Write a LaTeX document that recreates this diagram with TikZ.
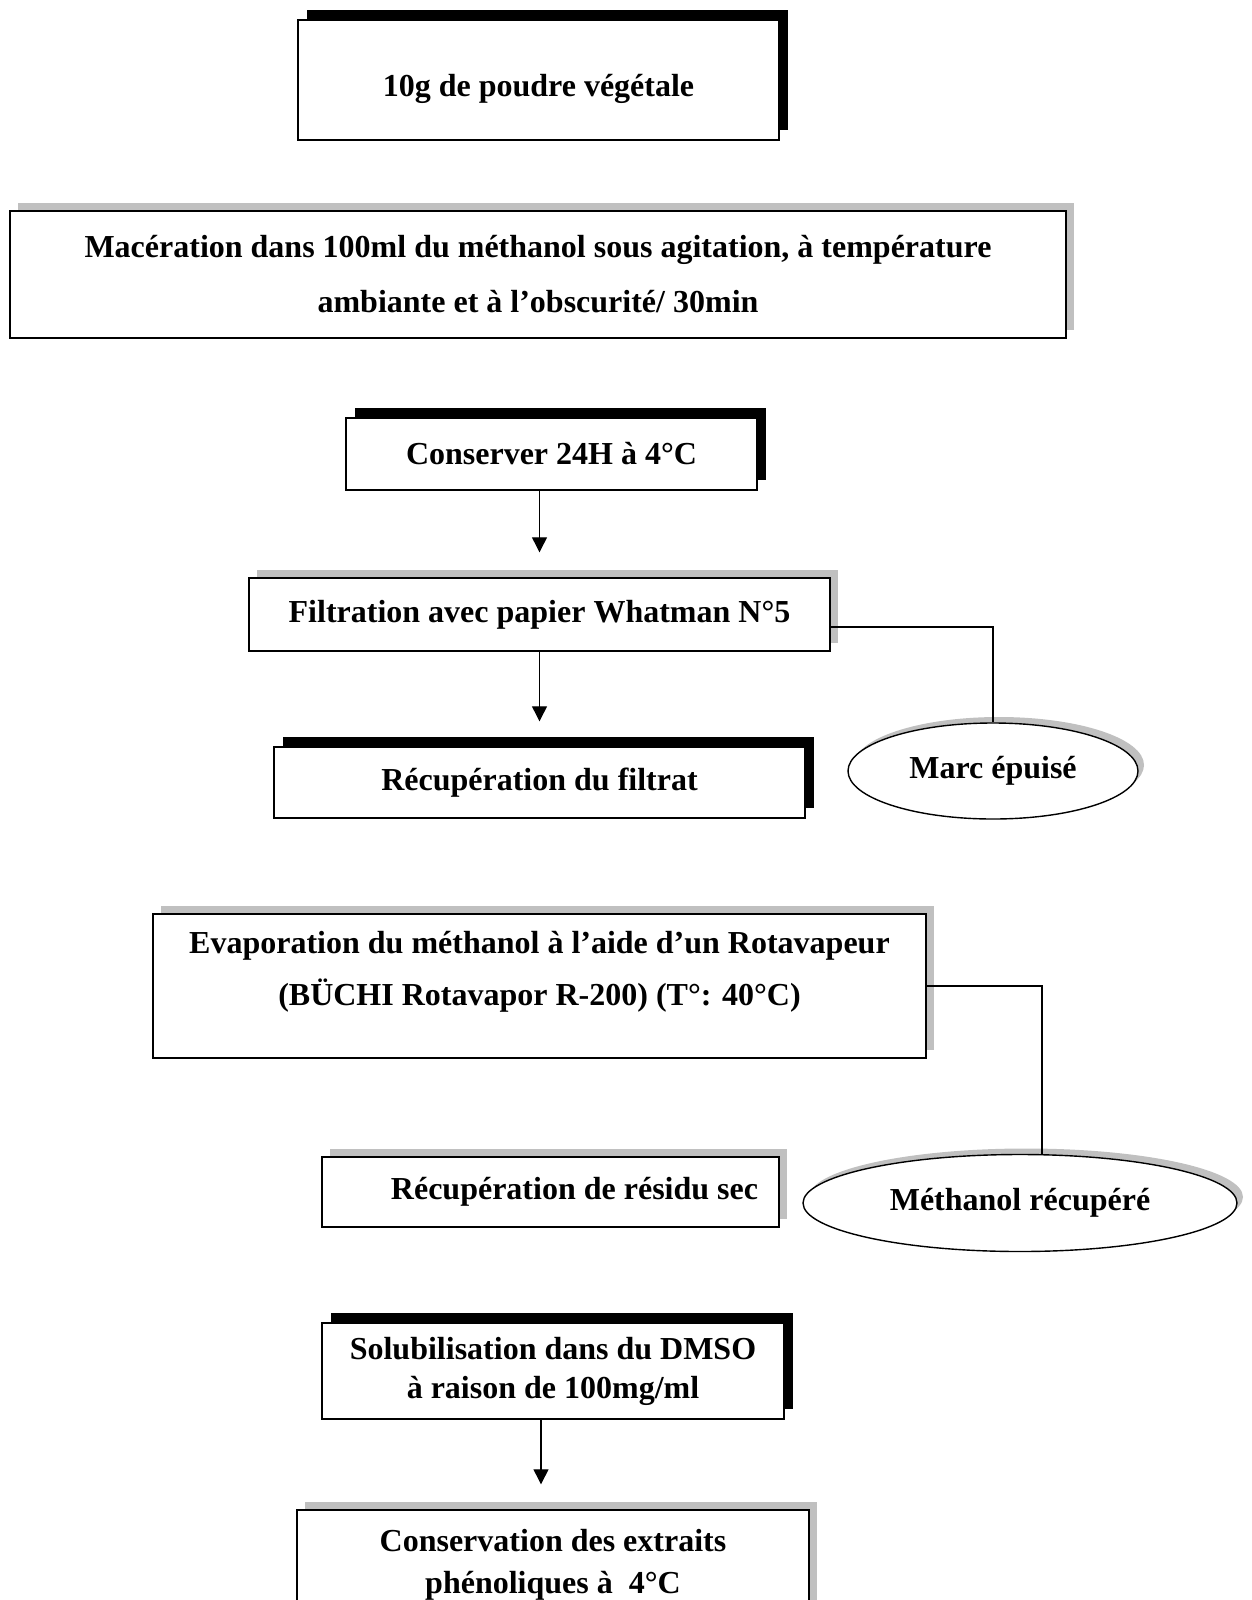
\documentclass[tikz,border=0pt]{standalone}
\usepackage{fontspec}
\setmainfont{Liberation Serif}
\usetikzlibrary{arrows.meta,shapes.geometric,shadows}

\definecolor{ombre}{HTML}{C0C0C0}

\tikzset{
  boite/.style={draw, line width=0.7pt, fill=white, align=center, inner sep=0pt,
    font=\bfseries\fontsize{16pt}{19.5pt}\selectfont},
  boitenoire/.style={boite, general shadow={shadow xshift=4.5pt, shadow yshift=5pt, fill=black}},
  boitegrise/.style={boite, general shadow={shadow xshift=4pt, shadow yshift=4pt, fill=ombre}},
  ovale/.style={ellipse, draw, line width=0.7pt, fill=white, inner sep=0pt,
    font=\bfseries\fontsize{16pt}{19.5pt}\selectfont,
    general shadow={shadow xshift=3pt, shadow yshift=3pt, fill=ombre}},
  fleche/.style={-{Triangle[width=7.5pt,length=7.5pt]}, line width=0.6pt, shorten >=12.5pt},
  trait/.style={line width=0.6pt}
}

\begin{document}
\begin{tikzpicture}[x=0.5pt,y=-0.5pt]
                \useasboundingbox (0,0) rectangle (1252,1600);
                \clip (0,0) rectangle (1252,1600);

                \node[boitenoire, minimum width=240.5pt, minimum height=60pt, text height=20.5pt] (poudre) at (538.5,80)
                    {10g de poudre végétale};

                \node[boitegrise, minimum width=528pt, minimum height=63.5pt,
                      font=\bfseries\fontsize{16pt}{27.5pt}\selectfont] (mace) at (538,274.5)
                    {Macération dans 100ml du méthanol sous agitation, à température\\
                     ambiante et à l’obscurité/ 30min};

                \node[boitenoire, minimum width=205.5pt, minimum height=36pt] (cons) at (551.5,454)
                    {Conserver 24H à 4°C};

                \node[boitegrise, minimum width=290.5pt, minimum height=36.5pt] (filt) at (539.5,614.5)
                    {Filtration avec papier Whatman N°5};

                \node[boitenoire, minimum width=265.5pt, minimum height=35.5pt] (filtrat) at (539.5,782.5)
                    {Récupération du filtrat};

                \node[ovale, minimum width=145pt, minimum height=48pt] (marc) at (993,771)
                    {Marc épuisé};

                \node[boitegrise, minimum width=386.5pt, minimum height=72pt, text depth=18pt,
                      font=\bfseries\fontsize{16pt}{26pt}\selectfont] (evap) at (539.5,986)
                    {Evaporation du méthanol à l’aide d’un Rotavapeur\\
                     (BÜCHI Rotavapor R-200) (T°: 40°C)};

                \node[boitegrise, minimum width=228.5pt, minimum height=35pt] (resid) at (550.5,1192)
                    {\hspace*{24pt}Récupération de résidu sec};

                \node[ovale, minimum width=217pt, minimum height=48.5pt] (meth) at (1020,1203)
                    {Méthanol récupéré};

                \node[boitenoire, minimum width=231pt, minimum height=48pt] (solub) at (553,1371)
                    {Solubilisation dans du DMSO\\ à raison de 100mg/ml};

                \node[boitegrise, minimum width=256pt, minimum height=55pt,
                      font=\bfseries\fontsize{16pt}{21pt}\selectfont] (conserv) at (553,1565)
                    {Conservation des extraits\\ phénoliques à~~4°C};

                \draw[fleche] (filt.north |- cons.south) -- (filt.north);
                \draw[fleche] (filt.south) -- (filtrat.north);
                \draw[fleche] ([xshift=-6pt]solub.south) -- ([xshift=-6pt]conserv.north);

                \draw[trait] ([yshift=-6.25pt]filt.east) -| (marc.north);
                \draw[trait] (evap.east) -| ([xshift=11pt]meth.north);
\end{tikzpicture}
\end{document}
